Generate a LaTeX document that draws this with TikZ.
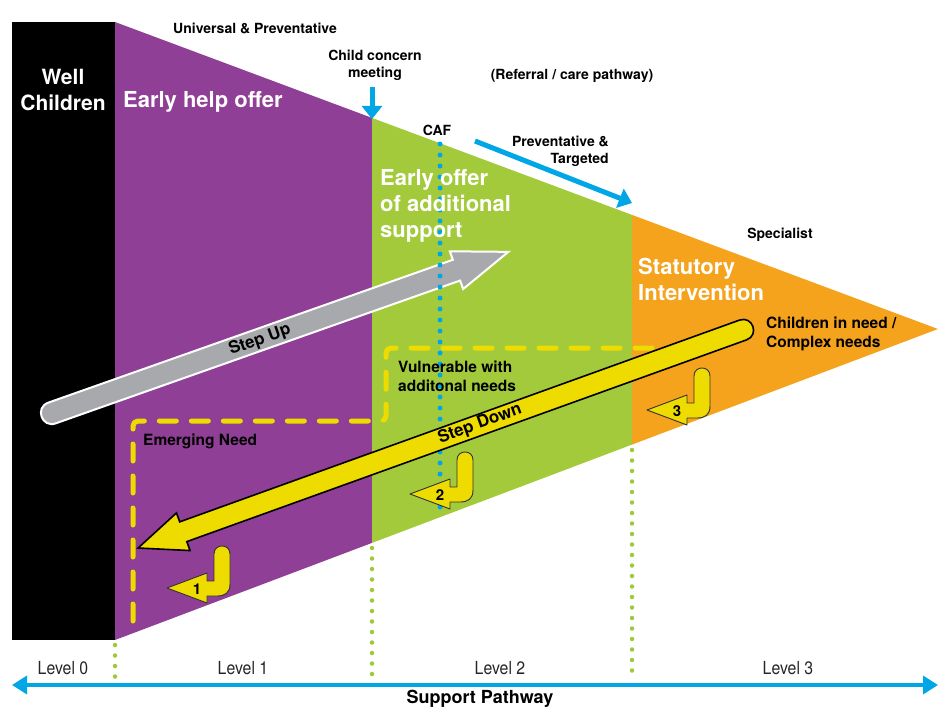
\documentclass[tikz,border=0pt]{standalone}
\usepackage{fontspec}
\setmainfont{TeX Gyre Heros}
\newfontfamily\condfont[FakeStretch=0.88]{TeX Gyre Heros}
\usetikzlibrary{arrows.meta,calc}
\definecolor{cpurple}{HTML}{8F3F95}
\definecolor{cgreen}{HTML}{A3CA3B}
\definecolor{corange}{HTML}{F5A31C}
\definecolor{cyellow}{HTML}{EEDB00}
\definecolor{cgray}{HTML}{A7A9AC}
\definecolor{cblue}{HTML}{00A6E6}
\definecolor{cdot}{HTML}{9DC93B}
\begin{document}
\begin{tikzpicture}[x=1pt,y=-1pt,
  wtext/.style={text=white, inner sep=0pt, font=\bfseries\fontsize{22}{26}\selectfont},
  btext/.style={text=black, inner sep=0pt, font=\bfseries\fontsize{15.5}{19}\selectfont},
  stext/.style={text=black, inner sep=0pt, font=\bfseries\fontsize{14}{17}\selectfont},
  lvl/.style={text=black!85, inner sep=0pt, font=\condfont\fontsize{18}{20}\selectfont},
  bluearrow/.style={draw=cblue, line width=5pt, -{Triangle[length=13pt,width=20pt]}},
  greendots/.style={draw=cdot, line width=4.5pt, line cap=round, dash pattern=on 0pt off 10.5pt},
  bluedots/.style={draw=cblue, line width=5pt, line cap=round, dash pattern=on 0pt off 11pt},
  yellowdash/.style={draw=cyellow, line width=5pt, line cap=round, line join=round, rounded corners=5pt, dash pattern=on 17pt off 15pt},
  stepupshape/.style={fill=cgray, draw=white, line width=2pt},
  stepdownshape/.style={fill=cyellow, draw=black, line width=1.6pt},
  hookshape/.style={fill=cyellow, draw=black!80, line width=0.9pt, line join=round},
  steptext/.style={text=black, inner sep=0pt, font=\bfseries\fontsize{17}{20}\selectfont},
  numtext/.style={text=black, inner sep=0pt, font=\bfseries\fontsize{15}{17}\selectfont}
]
\useasboundingbox (0,0) rectangle (938,709);

% regions
\fill[cpurple] (115,22) -- (372,117.9) -- (372,542.9) -- (115,640) -- cycle;
\fill[cgreen] (372,117.9) -- (632,214.9) -- (632,444.6) -- (372,542.9) -- cycle;
\fill[corange] (632,214.9) -- (938,329) -- (632,444.6) -- cycle;
\fill[black] (12,22) rectangle (115,640);

% level separators
\draw[greendots] (115,645) -- (115,680);
\draw[greendots] (372,548) -- (372,680);
\draw[greendots] (632,450) -- (632,680);

% dashed need boundaries
\draw[yellowdash] (133,621) -- (133,421) -- (386,421) -- (386,348) -- (720,348);

% Step Up arrow
\begin{scope}[shift={(52,413)}, rotate=19.45]
  \filldraw[stepupshape] (0,-11) -- (429,-11) -- (429,-20) -- (484,0) -- (429,20) -- (429,11) -- (0,11)
    .. controls (-14.7,11) and (-14.7,-11) .. (0,-11) -- cycle;
\end{scope}

% CAF dotted line
\draw[bluedots] (440,144) -- (440,518);

% Step Down arrow
\begin{scope}[shift={(743,330)}, rotate=199.82]
  \filldraw[stepdownshape] (0,-10.5) -- (595,-10.5) -- (595,-20) -- (643,0) -- (595,20) -- (595,10.5) -- (0,10.5)
    .. controls (-14,10.5) and (-14,-10.5) .. (0,-10.5) -- cycle;
\end{scope}

% hook arrows
\foreach \hx/\hy/\hn in {167/588/1, 410/494/2, 647/410/3}{
  \begin{scope}[shift={(\hx,\hy)}]
    \filldraw[hookshape] (0,0) -- (40,-15) -- (40,-7) -- (47,-7) -- (47,-34)
      .. controls (47,-44.7) and (63,-44.7) .. (63,-34) -- (63,-4)
      .. controls (63,5) and (58,8) .. (50,8) -- (40,8) -- (40,15) -- cycle;
    \node[numtext] (num\hn) at (30,1) {\hn};
  \end{scope}
}

% texts on arrows
\node[steptext, rotate=19.45] (stepup) at (260,340) {Step Up};
\node[steptext, rotate=19.82] (stepdown) at (480,424) {Step Down};

% white titles
\node[wtext, align=center, font=\bfseries\fontsize{21}{26}\selectfont] (well) at (63,90) {Well\\Children};
\node[wtext, anchor=west] (ehelp) at (123,102) {Early help offer};
\node[wtext, anchor=west, align=left] (eoffer) at (380,206) {Early offer\\of additional\\support};
\node[wtext, anchor=west, align=left] (stat) at (638,279) {Statutory\\Intervention};

% black labels
\node[btext, anchor=west, align=left] (cin) at (766,334) {Children in need /\\Complex needs};
\node[btext, anchor=west, align=left] (vuln) at (398,376) {Vulnerable with\\additonal needs};
\node[btext, anchor=west] (emerg) at (143,441) {Emerging Need};
\node[stext] (univ) at (255,28) {Universal \& Preventative};
\node[stext, align=center] (ccm) at (375,65) {Child concern\\meeting};
\node[stext] (ref) at (572,76) {(Referral / care pathway)};
\node[stext] (caf) at (437,130) {CAF};
\node[stext, align=right, anchor=east] (prev) at (609,151) {Preventative \&\\Targeted};
\node[stext] (spec) at (780,235) {Specialist};

% blue arrows
\coordinate (ccmA) at (372,87);
\coordinate (ccmB) at (372,119);
\draw[bluearrow] (ccmA) -- (ccmB);
\coordinate (pvA) at (475,141);
\coordinate (pvB) at (632,203);
\draw[bluearrow] (pvA) -- (pvB);

% levels
\node[lvl] (l0) at (63,668) {Level 0};
\node[lvl] (l1) at (243,668) {Level 1};
\node[lvl] (l2) at (500,668) {Level 2};
\node[lvl] (l3) at (788,668) {Level 3};

\coordinate (spL) at (12,685);
\coordinate (spR) at (938,685);
\draw[draw=cblue, line width=3.5pt, {Triangle[length=15pt,width=18pt]}-{Triangle[length=15pt,width=18pt]}] (spL) -- (spR);
\node[stext, font=\bfseries\fontsize{18}{20}\selectfont] (sp) at (480,699) {Support Pathway};
\end{tikzpicture}
\end{document}
